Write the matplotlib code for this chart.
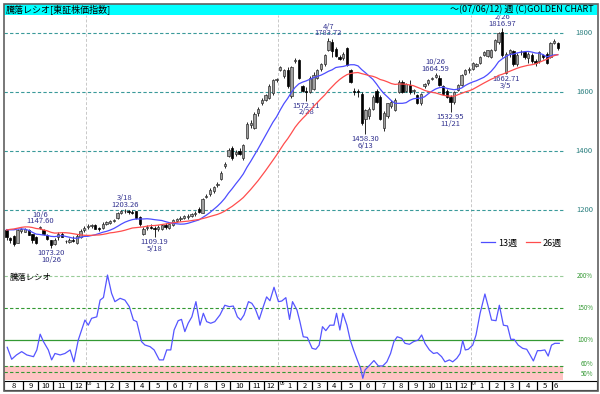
import matplotlib.pyplot as plt
from matplotlib.patches import Rectangle
import numpy as np
import pandas as pd

plt.rcParams['font.family'] = ['Noto Sans CJK JP', 'DejaVu Sans']

# weekly candles of TOPIX, week 0 = 2004-08-02, last week = 2007-06-11
first_week = '2004-08-02'
opens = [1132, 1105, 1112, 1090, 1130, 1128, 1134, 1118, 1110, 1140, 1132, 1115, 1098, 1085, 1110, 1120, 1095, 1093, 1100, 1090, 1108, 1132,
         1145, 1148, 1150, 1140, 1140, 1155, 1158, 1165, 1175, 1192, 1196, 1198, 1195, 1196, 1178, 1118, 1140, 1145, 1140, 1135,
         1138, 1150, 1140, 1150, 1165, 1170, 1175, 1178, 1182, 1188, 1205, 1192, 1245, 1255, 1265, 1285, 1305, 1350, 1385, 1410,
         1392, 1402, 1378, 1445, 1490, 1480, 1530, 1562, 1575, 1582, 1598, 1640,
         1675, 1655, 1675, 1588, 1705, 1710, 1620, 1605, 1600, 1612, 1650, 1678, 1695, 1745, 1772, 1748, 1720, 1715, 1750, 1675,
         1605, 1605, 1595, 1510, 1520, 1545, 1603, 1585, 1478, 1518, 1555, 1540, 1600, 1635, 1605, 1625, 1605, 1590, 1562, 1620,
         1630, 1645, 1652, 1650, 1620, 1605, 1585, 1568, 1608, 1625, 1662, 1675,
         1680, 1690, 1700, 1728, 1722, 1720, 1745, 1770, 1805, 1665, 1732, 1740, 1695, 1738, 1735, 1715, 1728, 1705, 1705, 1725,
         1730, 1720, 1768, 1768]
highs = [1136, 1110, 1115, 1138, 1140, 1140, 1138, 1120, 1112, 1147.60, 1135, 1118, 1100, 1105, 1128, 1125, 1100, 1105, 1112, 1118, 1135, 1148,
         1152, 1155, 1152, 1145, 1160, 1165, 1168, 1172, 1195, 1200, 1203.26, 1202, 1200, 1199, 1181, 1142, 1150, 1152, 1148, 1150,
         1155, 1158, 1155, 1172, 1175, 1180, 1184, 1188, 1192, 1196, 1212, 1242, 1255, 1275, 1282, 1295, 1332, 1362, 1412, 1418,
         1405, 1410, 1425, 1498, 1505, 1532, 1550, 1582, 1595, 1628, 1645, 1650,
         1690, 1680, 1685, 1690, 1715, 1712, 1625, 1618, 1655, 1668, 1680, 1700, 1730, 1783.72, 1780, 1752, 1728, 1735, 1755, 1680,
         1615, 1612, 1600, 1545, 1550, 1590, 1610, 1590, 1535, 1565, 1575, 1580, 1640, 1640, 1632, 1640, 1612, 1595, 1598, 1632,
         1645, 1652, 1664.59, 1658, 1625, 1610, 1590, 1605, 1628, 1662, 1678, 1685,
         1702, 1700, 1722, 1740, 1745, 1748, 1780, 1805, 1816.97, 1735, 1748, 1745, 1732, 1745, 1740, 1735, 1732, 1712, 1740, 1730,
         1735, 1770, 1782, 1772]
lows = [1100, 1090, 1080, 1088, 1124, 1125, 1115, 1090, 1086, 1135, 1115, 1100, 1073.20, 1083, 1100, 1108, 1088, 1090, 1092, 1085, 1105, 1128,
        1138, 1140, 1135, 1130, 1138, 1150, 1152, 1160, 1172, 1188, 1190, 1188, 1186, 1172, 1148, 1115, 1132, 1135, 1109.19, 1130,
        1132, 1138, 1135, 1148, 1160, 1165, 1170, 1172, 1178, 1182, 1190, 1190, 1240, 1250, 1260, 1280, 1302, 1345, 1380, 1372,
        1385, 1388, 1372, 1440, 1480, 1475, 1520, 1558, 1570, 1578, 1592, 1635,
        1672, 1650, 1615, 1580, 1700, 1645, 1600, 1572.11, 1598, 1608, 1645, 1672, 1690, 1740, 1720, 1718, 1708, 1710, 1690, 1630,
        1590, 1585, 1490, 1458.30, 1510, 1540, 1565, 1505, 1470, 1512, 1548, 1535, 1598, 1598, 1600, 1595, 1595, 1560, 1558, 1615,
        1625, 1640, 1648, 1620, 1590, 1580, 1532.95, 1560, 1605, 1620, 1658, 1665,
        1675, 1685, 1696, 1722, 1718, 1715, 1740, 1765, 1720, 1662.71, 1720, 1688, 1690, 1725, 1712, 1698, 1700, 1690, 1700, 1712,
        1695, 1716, 1762, 1745]
closes = [1109, 1100, 1086, 1132, 1137, 1136, 1117, 1098, 1090, 1143, 1118, 1103, 1082, 1098, 1120, 1110, 1097, 1100, 1096, 1112, 1130, 1140,
          1148, 1150, 1138, 1135, 1155, 1160, 1165, 1168, 1192, 1196, 1198, 1193, 1190, 1175, 1152, 1138, 1145, 1140, 1135, 1145,
          1150, 1142, 1152, 1168, 1172, 1175, 1180, 1182, 1188, 1192, 1195, 1238, 1250, 1270, 1280, 1290, 1328, 1358, 1405, 1378,
          1398, 1392, 1420, 1492, 1495, 1528, 1545, 1575, 1590, 1622, 1640, 1645,
          1685, 1675, 1620, 1685, 1710, 1650, 1605, 1600, 1650, 1660, 1675, 1695, 1725, 1775, 1740, 1722, 1712, 1730, 1694, 1636,
          1600, 1600, 1495, 1540, 1545, 1585, 1568, 1510, 1529, 1562, 1568, 1574, 1636, 1602, 1628, 1600, 1608, 1563, 1595, 1628,
          1640, 1648, 1658, 1625, 1595, 1585, 1568, 1600, 1625, 1658, 1675, 1680,
          1698, 1695, 1720, 1735, 1742, 1745, 1776, 1800, 1726, 1730, 1742, 1695, 1728, 1735, 1718, 1730, 1705, 1700, 1735, 1718,
          1700, 1766, 1775, 1750]
# closes of the 25 weeks before the window, only used to seed the averages
prior_closes = [1040, 1050, 1060, 1070, 1095, 1120, 1150, 1175, 1180, 1200, 1190, 1210, 1170,
                1110, 1085, 1100, 1130, 1150, 1165, 1185, 1170, 1160, 1145, 1115, 1125]

peak_weeks = [9, 32, 87, 116, 134]
peak_dates = ['10/6', '3/18', '4/7', '10/26', '2/26']
trough_weeks = [12, 40, 81, 97, 120, 135]
trough_dates = ['10/26', '5/18', '2/28', '6/13', '11/21', '3/5']

# 騰落レシオ (%)
ratio_weeks = [0.2, 1.4, 2.7, 4.1, 5.5, 7.3, 8.2, 9.1, 10, 11.3, 12.2, 13.1, 14.5, 15.8, 17.2, 18.2, 19.4, 21.2,
               22.1, 23, 24.4, 25.3, 26.2, 27.3, 28.4, 29.3, 30.7, 32, 33.2, 34.3, 35.2, 36.5, 37.4, 38.8, 39.9,
               41.3, 42.4, 43.3, 44.4, 45.3, 46.4, 47.3, 48.2, 49.1, 50.1, 51.2, 52.3, 53.2, 54.1, 55.2, 56.3,
               57.7, 59, 60.2, 61.3, 62.4, 63.3, 64.2, 65.4, 66.3, 67.2, 68.3, 69.4, 70.3, 71.2, 72.3, 73.5,
               74.4, 75.5, 76.5, 77.3, 78.5, 79.3, 80.2, 81.3, 82.6, 83.6, 84.5, 85.4, 86.3, 87.4, 88.5, 89.2,
               90.1, 90.9, 92, 92.9, 93.8, 94.8, 95.7, 96.3, 96.9, 98.2, 99.3, 100.5, 101.7, 102.8, 103.8,
               104.7, 105.6, 106.8, 107.7, 108.9, 110, 111.3, 112.2, 113.1, 114.3, 115.4, 116.4, 117.6, 118.5,
               119.7, 120.6, 121.7, 122.6, 123.3, 124, 124.8, 126, 126.9, 128, 129.3, 130.2, 131.1, 132.3,
               133.2, 134.3, 135.4, 136.3, 137.2, 138.3, 139.5, 140.6, 141.5, 142.4, 143.5, 144.4, 145.5,
               146.4, 147.3, 148.2, 149.4]
ratio_values = [88.6, 70, 76.7, 81.9, 76.7, 74, 84.5, 109, 97.4, 84.5, 69, 79, 76.7, 79, 84.5, 66, 100, 131,
                123, 133.7, 136, 162, 166, 201, 172.5, 159.6, 164.8, 162, 151.8, 131, 128.5, 97.4, 92.2, 89.6, 84.5,
                69, 69, 84.5, 84.5, 115.5, 130, 132, 113, 126, 136, 159.6, 123, 141.5, 128.5, 126, 128.5,
                139, 154, 151.8, 152.8, 136, 131, 139, 159.6, 157, 149, 132, 151.8, 167, 161, 182, 159.6,
                160.6, 165.8, 132, 159.6, 146.6, 128.5, 105, 104, 87, 85.5, 92, 120.7, 114.5, 123, 123, 141.5,
                115.5, 141.5, 123, 100, 84.5, 69, 56, 40.4, 53.4, 61, 68, 59.6, 59.6, 66, 79,
                97.4, 105, 102.6, 94.8, 93.3, 97.4, 100, 107.8, 94.8, 84.5, 79, 80.3, 74, 66,
                69, 66, 71.5, 79, 99, 84.5, 85.5, 92, 107.8, 141.5, 171.5, 151.8, 131, 130,
                154, 123, 121.8, 101, 101, 92, 87, 85.5, 76.7, 67.4, 83.4, 83.4, 84.5,
                75, 92, 94.8, 94.8]

price_levels = [1200, 1400, 1600, 1800]
ratio_levels = [200, 150, 100, 60, 50]

opens, highs, lows, closes = map(np.array, (opens, highs, lows, closes))
weeks = np.arange(len(closes))
dates = pd.date_range(first_week, periods=len(closes), freq='7D')
all_closes = pd.Series(prior_closes + list(closes))
ma13 = all_closes.rolling(13).mean().to_numpy()[len(prior_closes):]
ma26 = all_closes.rolling(26).mean().to_numpy()[len(prior_closes):]

W, H = 600, 394
fig = plt.figure(figsize=(6, 3.94), dpi=100)


def box(x0, y0, x1, y1):
    return [x0 / W, 1 - y1 / H, (x1 - x0) / W, (y1 - y0) / H]


def px_to_week(px):
    return (px - 6.5) / 3.7


xlim = (px_to_week(4), px_to_week(597))
x_end = px_to_week(563)
lab_x = (593 - 4) / 593

# header
fig.patches.append(Rectangle((4 / W, 1 - 15 / H), 593 / W, 11 / H, transform=fig.transFigure,
                             facecolor='#00ffff', edgecolor='none'))
fig.text(6 / W, 1 - 9.5 / H, '騰落レシオ[東証株価指数]', fontsize=6.5, va='center', ha='left')
fig.text(594 / W, 1 - 9.5 / H, '～(07/06/12) 週 (C)GOLDEN CHART', fontsize=6.5, va='center', ha='right')

# price panel
ax = fig.add_axes(box(4, 15, 597, 265))
ax.set_xlim(*xlim)
ax.set_ylim(1014.5, 1862)
ax.axis('off')
ax.hlines(price_levels, xlim[0], x_end, colors='#3a9a9a', linestyles=(0, (3, 2)), lw=0.8)
for lv in price_levels:
    ax.text(lab_x, lv, str(lv), transform=ax.get_yaxis_transform(), ha='right', va='center',
            fontsize=5.5, color='#2a7f7f')

up = closes >= opens
ax.vlines(weeks, lows, highs, color='black', lw=0.6, zorder=2)
ax.bar(weeks[up], np.maximum(closes - opens, 0.8)[up], bottom=opens[up], width=0.62,
       color='#a0a0a0', edgecolor='#303030', lw=0.5, zorder=3)
ax.bar(weeks[~up], (closes - opens)[~up], bottom=opens[~up], width=0.62,
       color='black', edgecolor='black', lw=0.5, zorder=3)
ax.plot(weeks, ma13, color='#4d4dff', lw=0.9, zorder=4, label='13週')
ax.plot(weeks, ma26, color='#ff4d4d', lw=0.9, zorder=4, label='26週')

for w, d in zip(peak_weeks, peak_dates):
    ax.annotate(f'{d}\n{highs[w]:.2f}', xy=(w, highs[w]), xytext=(0, 0.5), textcoords='offset points',
                ha='center', va='bottom', fontsize=5.5, color='#333390', linespacing=0.75)
for w, d in zip(trough_weeks, trough_dates):
    ax.annotate(f'{lows[w]:.2f}\n{d}', xy=(w, lows[w]), xytext=(0, -1), textcoords='offset points',
                ha='center', va='top', fontsize=5.5, color='#333390', linespacing=0.75)

ax.legend(loc='center right', bbox_to_anchor=(0.955, 0.088), ncol=2, frameon=False, fontsize=6.5,
          handlelength=1.6, handletextpad=0.3, columnspacing=1.0)

# ratio panel
ax2 = fig.add_axes(box(4, 265, 597, 379))
ax2.set_xlim(*xlim)
ax2.set_ylim(39.3, 216.6)
ax2.axis('off')
ax2.fill_between([xlim[0], x_end], 0, 60, color='#ffc4c4', lw=0)
ax2.hlines([150, 60, 50], xlim[0], x_end, colors='#339933', linestyles=(0, (3, 2)), lw=0.8)
ax2.hlines([200], xlim[0], x_end, colors='#99cc99', linestyles=(0, (3, 2)), lw=0.8)
ax2.hlines([100], xlim[0], x_end, colors='#339933', lw=0.9)
label_nudge = {60: 2.5, 50: -2.5}
for lv in ratio_levels:
    ax2.text(lab_x, lv + label_nudge.get(lv, 0), f'{lv}%', transform=ax2.get_yaxis_transform(),
             ha='right', va='center', fontsize=4.5, color='#339933')
ax2.plot(ratio_weeks, ratio_values, color='#5555ff', lw=0.9)
ax2.text(6 / 593, 0.89, '騰落レシオ', transform=ax2.transAxes, fontsize=6, va='center', ha='left')

# month row
ax3 = fig.add_axes(box(4, 381, 597, 390))
ax3.set_xlim(*xlim)
ax3.set_ylim(0, 1)
ax3.set_xticks([])
ax3.set_yticks([])
for s in ax3.spines.values():
    s.set_color('black')
    s.set_linewidth(0.8)

starts = [0] + [i for i in range(1, len(dates)) if dates[i].month != dates[i - 1].month]
bounds = [xlim[0]] + [i - 0.5 for i in starts[1:]] + [len(dates) - 0.5]
for k, i in enumerate(starts):
    left, right = bounds[k], bounds[k + 1]
    if k > 0:
        ax3.axvline(left, color='black', lw=0.9)
    mid = (left + right) / 2
    if dates[i].month == 1:
        ax3.text(left + 0.3, 0.95, dates[i].strftime('%y'), fontsize=3.5, ha='left', va='top')
        mid += 0.5
    ax3.text(mid, 0.45, str(dates[i].month), fontsize=5.5, ha='center', va='center')

# year separators across both panels
for i in starts:
    if dates[i].month == 1:
        for a in (ax, ax2):
            a.axvline(i - 0.5, color='#c8c8c8', lw=0.7, ls=(0, (3, 2)), zorder=0)

# outer frame
fig.patches.append(Rectangle((3.5 / W, 1 - 390.5 / H), 594 / W, 387 / H, transform=fig.transFigure,
                             facecolor='none', edgecolor='#606060', lw=1.2))

plt.savefig('out.png', dpi=100)
